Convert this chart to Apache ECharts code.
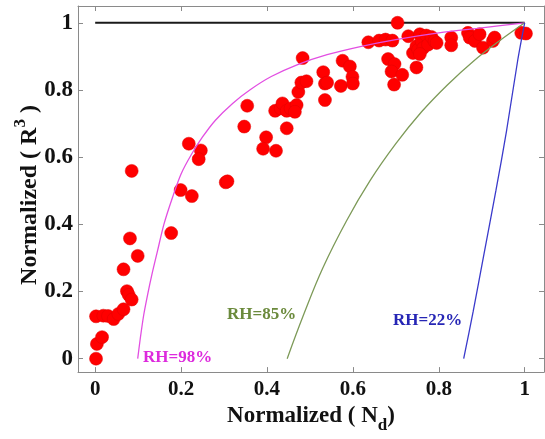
<!DOCTYPE html>
<html>
<head>
<meta charset="utf-8">
<script src="https://cdn.jsdelivr.net/npm/echarts@6/dist/echarts.min.js"></script>
<style>html,body{margin:0;padding:0;background:#fff}#c{width:545px;height:439px}</style>
</head>
<body>
<div id="c"></div>
<script>
// Tick values
var xTicks = [0, 0.2, 0.4, 0.6, 0.8, 1];
var yTicks = [0, 0.2, 0.4, 0.6, 0.8, 1];

// Observed points [Normalized Nd, Normalized R^3]
var observed = [
  [0.002,0.0],[0.004,0.044],[0.016,0.064],[0.002,0.126],[0.019,0.128],[0.030,0.127],
  [0.043,0.118],[0.054,0.133],[0.066,0.147],[0.074,0.201],[0.078,0.19],[0.085,0.176],
  [0.066,0.266],[0.081,0.358],[0.099,0.306],[0.085,0.559],[0.177,0.374],[0.199,0.502],
  [0.225,0.484],[0.218,0.640],[0.246,0.620],[0.241,0.594],[0.304,0.525],[0.308,0.528],
  [0.347,0.691],[0.354,0.753],[0.398,0.659],[0.391,0.625],[0.421,0.619],[0.446,0.686],
  [0.419,0.738],[0.432,0.745],[0.436,0.760],[0.446,0.738],[0.455,0.745],[0.469,0.755],
  [0.465,0.735],[0.473,0.794],[0.480,0.822],[0.492,0.826],[0.483,0.895],[0.531,0.853],
  [0.535,0.819],[0.540,0.822],[0.535,0.770],[0.572,0.812],[0.576,0.887],[0.593,0.870],
  [0.599,0.839],[0.600,0.819],[0.636,0.942],[0.661,0.947],[0.676,0.950],[0.692,0.947],
  [0.682,0.892],[0.697,0.877],[0.690,0.855],[0.715,0.845],[0.696,0.816],[0.704,1.0],
  [0.729,0.960],[0.748,0.867],[0.740,0.910],[0.748,0.930],[0.752,0.920],[0.756,0.966],
  [0.760,0.945],[0.764,0.925],[0.771,0.962],[0.775,0.935],[0.783,0.958],[0.790,0.945],
  [0.795,0.940],[0.756,0.907],[0.829,0.956],[0.829,0.933],[0.868,0.970],[0.872,0.956],
  [0.884,0.946],[0.895,0.966],[0.903,0.926],[0.926,0.946],[0.930,0.956],[0.992,0.970],
  [1.003,0.968]
];

// Theoretical curves
var rh98 = [[0.099,0],[0.105,0.06],[0.113,0.13],[0.122,0.19],[0.132,0.25],[0.145,0.32],
  [0.16,0.40],[0.18,0.48],[0.2,0.55],[0.225,0.61],[0.25,0.66],[0.28,0.71],[0.32,0.76],
  [0.36,0.80],[0.41,0.84],[0.47,0.875],[0.54,0.905],[0.62,0.93],[0.7,0.95],[0.8,0.97],
  [0.9,0.985],[1,1]];
var rh85 = [[0.447,0],[0.485,0.13],[0.53,0.27],[0.585,0.41],[0.64,0.53],[0.70,0.64],
  [0.76,0.735],[0.82,0.815],[0.88,0.885],[0.94,0.945],[1,1]];
var rh22 = [[0.858,0],[0.88,0.14],[0.905,0.31],[0.933,0.5],[0.958,0.68],[0.984,0.89],[1,1]];
var unity = [[0,1],[1,1]];

var serif = '"Liberation Serif", "Times New Roman", serif';
var axisGray = '#8a8a8a';

var chart = echarts.init(document.getElementById('c'));

function xAxisCfg(pos, showLabel) {
  return {
    type: 'value', min: -0.04, max: 1.045, position: pos,
    axisLine: { show: true, onZero: false, lineStyle: { color: axisGray, width: 1 } },
    axisTick: { show: true, inside: true, length: 5, customValues: xTicks, lineStyle: { color: axisGray } },
    axisLabel: { show: showLabel, customValues: xTicks, margin: 7, color: '#111',
      fontFamily: serif, fontWeight: 'bold', fontSize: 21 },
    splitLine: { show: false }
  };
}
function yAxisCfg(pos, showLabel) {
  return {
    type: 'value', min: -0.04, max: 1.05, position: pos,
    axisLine: { show: true, onZero: false, lineStyle: { color: axisGray, width: 1 } },
    axisTick: { show: true, inside: true, length: 5, customValues: yTicks, lineStyle: { color: axisGray } },
    axisLabel: { show: showLabel, customValues: yTicks, margin: 5, color: '#111',
      fontFamily: serif, fontWeight: 'bold', fontSize: 23 },
    splitLine: { show: false }
  };
}

var xb = xAxisCfg('bottom', true);
xb.name = 'Normalized ( N{sub|d})';
xb.nameLocation = 'middle';
xb.nameGap = 26;
xb.nameTextStyle = { fontFamily: serif, fontWeight: 'bold', fontSize: 23, color: '#111',
  rich: { sub: { fontFamily: serif, fontWeight: 'bold', fontSize: 17, color: '#111', padding: [18, 0, 0, 0] } } };

var option = {
  animation: false,
  backgroundColor: '#fff',
  grid: { left: 78, right: 1, top: 6, bottom: 62, containLabel: false },
  xAxis: [xb, xAxisCfg('top', false)],
  yAxis: [yAxisCfg('left', true), yAxisCfg('right', false)],
  series: [
    { type: 'line', data: unity, showSymbol: false, lineStyle: { color: '#1a1a1a', width: 2 }, z: 2 },
    { type: 'scatter', data: observed, symbolSize: 13,
      itemStyle: { color: '#ff0000', borderColor: '#e00000', borderWidth: 0.5, opacity: 1 }, z: 3 },
    { type: 'line', data: rh98, smooth: 0.3, showSymbol: false, lineStyle: { color: '#e24fe2', width: 1.3 }, z: 4 },
    { type: 'line', data: rh85, smooth: 0.4, showSymbol: false, lineStyle: { color: '#7d9a58', width: 1.3 }, z: 4 },
    { type: 'line', data: rh22, smooth: 0.3, showSymbol: false, lineStyle: { color: '#3a3acb', width: 1.3 }, z: 4 }
  ],
  graphic: [
    { type: 'text', x: 30, y: 195, rotation: Math.PI / 2, z: 10,
      style: { text: 'Normalized ( R{sup|3} )', align: 'center', verticalAlign: 'middle',
        fontFamily: serif, fontWeight: 'bold', fontSize: 24, fill: '#111',
        rich: { sup: { fontFamily: serif, fontWeight: 'bold', fontSize: 17, fill: '#111', padding: [0, 0, 18, 0] } } } },
    { type: 'text', x: 143, y: 357.5, z: 10,
      style: { text: 'RH=98%', verticalAlign: 'middle', fontFamily: serif, fontWeight: 'bold', fontSize: 17, fill: '#dd2add' } },
    { type: 'text', x: 227, y: 315, z: 10,
      style: { text: 'RH=85%', verticalAlign: 'middle', fontFamily: serif, fontWeight: 'bold', fontSize: 17, fill: '#6b8a3c' } },
    { type: 'text', x: 393, y: 321, z: 10,
      style: { text: 'RH=22%', verticalAlign: 'middle', fontFamily: serif, fontWeight: 'bold', fontSize: 17, fill: '#2626b5' } }
  ]
};
chart.setOption(option);
</script>
</body>
</html>
